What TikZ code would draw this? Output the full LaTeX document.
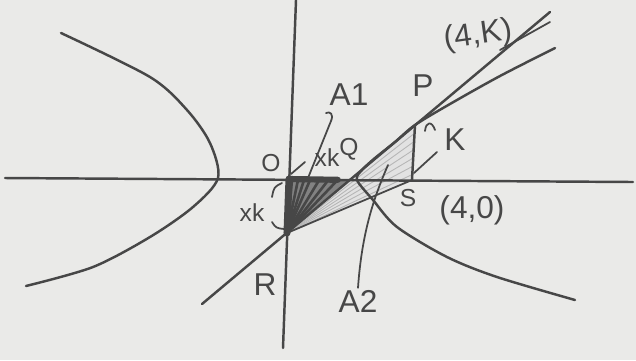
\documentclass[tikz,border=0pt]{standalone}
\usepackage{fontspec}
\setmainfont{Liberation Sans}
\usetikzlibrary{calc, arrows.meta}
\colorlet{pencil}{black!72}
\definecolor{paper}{RGB}{234,234,232}

\begin{document}
\begin{tikzpicture}[x=0.02cm, y=-0.02cm, line cap=round, line join=round]
    \tikzset{
      lbl/.style={text=pencil, font=\fontsize{18}{20}\selectfont, inner sep=1pt},
      smalllbl/.style={lbl, font=\fontsize{14}{15}\selectfont},
      stroke/.style={draw=pencil, line width=1.4pt},
      thinstroke/.style={draw=pencil, line width=1pt},
    }
    % --- Paper
    \fill[paper] (0,0) rectangle (636,360);
    \useasboundingbox (0,0) rectangle (636,360);

    % --- Key points
    \coordinate (O) at (289,179);
    \coordinate (Q) at (350,180);
    \coordinate (R) at (287,233);
    \coordinate (P) at (415,125);
    \coordinate (S) at (412,180);

    % --- Light region A2: triangle R-P-S
    \fill[pencil!16] (R) -- (P) -- (S) -- cycle;
    \foreach \t in {0.15,0.3,0.45,0.6,0.75,0.9}
      \draw[pencil!40, line width=0.5pt] (R) -- ($(P)!\t!(S)$);

    % --- Dark region A1: triangle O-Q-R
    \fill[pencil!68] (O) -- (Q) -- (R) -- cycle;
    \foreach \t in {0.05,0.15,0.25,0.35,0.5,0.65,0.8}
      \draw[pencil, line width=1.5pt] (R) -- ($(O)!\t!(Q)$);
    \draw[pencil, line width=4pt] (O) -- (R);
    \draw[pencil, line width=3.5pt] (O) -- ($(O)!0.8!(Q)$);

    % --- Axes
    \coordinate (xl) at (5,178);
    \coordinate (xr) at (633,182);
    \coordinate (yt) at (296,0);
    \coordinate (yb) at (283,348);
    \draw[stroke] (xl) -- (xr);
    \draw[stroke] (yt) -- (yb);

    % --- Hyperbola, left branch
    \draw[stroke] plot[smooth] coordinates {(61,33) (150,77) (187,110) (210,143) (218,178)
      (193,207) (150,237) (93,267) (26,286)};

    % --- Hyperbola, right branch
    \draw[stroke] plot[smooth] coordinates {(555,48) (500,76) (450,104) (415,125) (395,142)
      (375,158) (362,170) (357,180) (373,200) (397,227) (447,257) (497,277) (575,300)};

    % --- Tangent line through R, Q, P
    \coordinate (T1) at (202,304);
    \coordinate (T2) at (550,12);
    \draw[stroke] (T1) -- (T2);
    \draw[thinstroke] (500,50) -- (550,22);

    % --- Chord RS and ordinate PS
    \draw[thinstroke] (R) -- (S);
    \draw[stroke] (P) -- (S);

    % --- Length marks
    \draw[thinstroke] (425,131) .. controls (426,121) and (432,121) .. (435,130);
    \draw[thinstroke] (414,173) -- (437,152);
    \draw[thinstroke] (291,174) -- (305,162);
    \draw[thinstroke] (282,183) .. controls (274,187) .. (272,197);
    \draw[thinstroke] (272,222) .. controls (276,228) .. (284,229);

    % --- Labels
    \node[lbl] (labA1) at (349,95) {A1};
    \node[lbl] (labP) at (423,86) {P};
    \node[lbl, rotate=8] (labPK) at (478,36) {(4,K)};
    \node[lbl] (labK) at (455,140) {K};
    \node[smalllbl] (labO) at (271,163) {O};
    \node[smalllbl] (labxkQ) at (327,158) {xk};
    \node[smalllbl] (labQ) at (349,149) {Q};
    \node[smalllbl] (labxkR) at (252,213) {xk};
    \node[lbl] (labR) at (265,285) {R};
    \node[smalllbl] (labS) at (408,198) {S};
    \node[lbl] (labS0) at (472,210) {(4,0)};
    \node[lbl] (labA2) at (358,301) {A2};

    % --- Pointers to the regions
    \coordinate (inA1) at (308,178);
    \coordinate (inA2) at (388,165);
    \draw[thinstroke] (inA1) -- (331,121) .. controls (334,114) and (330,111) .. (326,113);
    \draw[thinstroke] (labA2.north) .. controls (362,230) and (375,195) .. (inA2);
\end{tikzpicture}
\end{document}
